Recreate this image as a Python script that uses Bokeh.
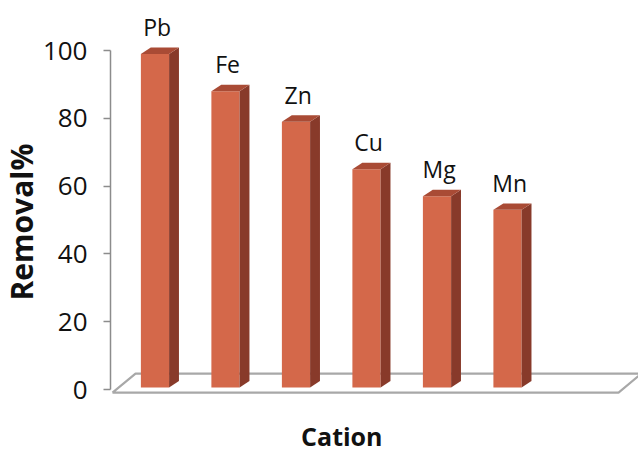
from bokeh.plotting import figure
from bokeh.models import Range1d, FixedTicker, Title, Label
from bokeh.core.properties import value
from bokeh.embed import file_html
from bokeh.resources import INLINE

# Removal percentage per cation
cations = ["Pb", "Fe", "Zn", "Cu", "Mg", "Mn"]
removal = [99, 88, 79, 65, 57, 53]
y_ticks = [0, 20, 40, 60, 80, 100]

FONT = "Open Sans"
FRONT = "#d4684a"
SIDE = "#883a2a"
TOP = "#a94b35"
FLOOR = "#a8a8a8"
INK = "#111111"

# 3D column geometry (data units)
HALF_W = 0.2        # half width of a column front face
DX, DY = 0.14, 1.9  # depth offset of side/top faces
BASE = 0.6

p = figure(width=638, height=454, output_backend="svg", toolbar_location=None,
           x_range=Range1d(0.369, 7.858), y_range=Range1d(-19.17, 114.75),
           min_border_left=110, min_border_right=0, min_border_top=0,
           min_border_bottom=0)
p.outline_line_color = None
p.xgrid.visible = False
p.ygrid.visible = False
p.xaxis.visible = False
p.background_fill_color = "white"
p.border_fill_color = "white"

xs = list(range(1, len(cations) + 1))

# floor of the 3D plot area
fx = [0.397, 0.724, 7.90, 7.575, 0.397]
fy = [-0.9, 4.7, 4.7, -0.9, -0.9]
p.line(fx, fy, line_color=FLOOR, line_width=2.2)

# columns: front, side and top faces
left = [x - HALF_W for x in xs]
right = [x + HALF_W for x in xs]
p.quad(left=left, right=right, bottom=BASE, top=removal,
       fill_color=FRONT, line_color=None)
p.patches(
    xs=[[r, r + DX, r + DX, r] for r in right],
    ys=[[BASE, BASE + DY, v + DY, v] for v in removal],
    fill_color=SIDE, line_color=None)
p.patches(
    xs=[[l, l + DX, r + DX, r] for l, r in zip(left, right)],
    ys=[[v, v + DY, v + DY, v] for v in removal],
    fill_color=TOP, line_color=None)

# category names above each column
p.text(x=[x + 0.03 for x in xs], y=removal, text=cations,
       text_align="center", text_baseline="alphabetic", y_offset=-27,
       text_font=value(FONT), text_font_size="23px", text_color=INK)

# value axis
ya = p.yaxis[0]
ya.ticker = FixedTicker(ticks=y_ticks)
ya.bounds = (0, 100)
ya.axis_line_color = "#8c8c8c"
ya.axis_line_width = 1.5
ya.major_tick_line_color = "#8c8c8c"
ya.major_tick_line_width = 1.5
ya.major_tick_in = 0
ya.major_tick_out = 7
ya.minor_tick_line_color = None
ya.major_label_standoff = 16
ya.major_label_text_font = FONT
ya.major_label_text_font_size = "26px"
ya.major_label_text_color = INK

# axis titles
p.add_layout(Title(text="Removal%", align="left", offset=154, standoff=-6,
                   vertical_align="middle", text_font=FONT,
                   text_font_size="30px", text_font_style="bold",
                   text_color=INK), "left")
p.add_layout(Label(x=3.65, y=-13.6, text="Cation", text_align="center",
                   text_baseline="middle", text_font=FONT,
                   text_font_size="25px", text_font_style="bold",
                   text_color=INK))

open("out.html", "w").write(file_html(p, INLINE))
